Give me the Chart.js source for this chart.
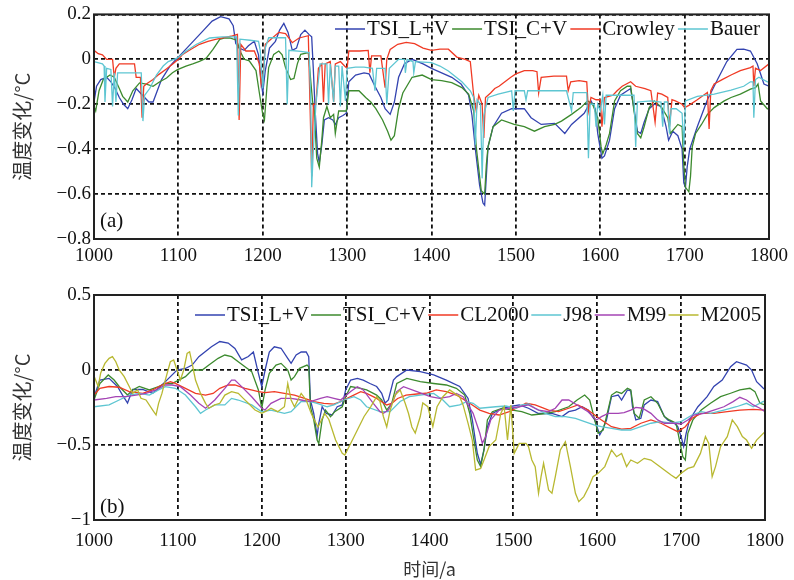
<!DOCTYPE html>
<html>
<head>
<meta charset="utf-8">
<script src="https://cdn.jsdelivr.net/npm/chart.js@4.4.1/dist/chart.umd.min.js"></script>
<style>
  body { margin: 0; background: #fff; }
  #wrap { position: relative; width: 794px; height: 580px; }
  #wrap canvas { position: absolute; left: 0; }
</style>
</head>
<body>
<div id="wrap">
  <canvas id="chart-a" width="794" height="280" style="top:0"></canvas>
  <canvas id="chart-b" width="794" height="300" style="top:280px"></canvas>
</div>
<script>
// Ticks
const xTicks = [1000, 1100, 1200, 1300, 1400, 1500, 1600, 1700, 1800];
const yTicksA = [0.2, 0, -0.2, -0.4, -0.6, -0.8];
const yTicksB = [0.5, 0, -0.5, -1];

// Panel (a): [year, °C]
const tsiLV_a = [[1000,-0.19],[1003,-0.12],[1008,-0.09],[1015,-0.08],[1020,-0.10],[1025,-0.13],[1030,-0.17],[1035,-0.20],[1040,-0.22],[1045,-0.18],[1050,-0.13],[1055,-0.15],[1060,-0.17],[1065,-0.19],[1070,-0.19],[1075,-0.14],[1080,-0.09],[1085,-0.06],[1090,-0.03],[1095,-0.01],[1100,0.01],[1110,0.05],[1120,0.09],[1130,0.13],[1140,0.17],[1150,0.19],[1160,0.18],[1165,0.15],[1168,0.07],[1172,0.05],[1178,0.04],[1183,0.06],[1190,0.08],[1195,0.02],[1198,-0.10],[1200,-0.15],[1203,-0.05],[1208,0.05],[1215,0.08],[1220,0.13],[1225,0.16],[1230,0.12],[1235,0.04],[1240,0.05],[1245,0.11],[1250,0.13],[1255,0.11],[1258,0.10],[1260,-0.05],[1262,-0.22],[1265,-0.42],[1267,-0.46],[1270,-0.38],[1273,-0.27],[1278,-0.26],[1283,-0.27],[1286,-0.29],[1290,-0.26],[1295,-0.25],[1299,-0.24],[1302,-0.10],[1310,-0.07],[1320,-0.06],[1326,-0.065],[1333,-0.12],[1340,-0.17],[1345,-0.22],[1351,-0.245],[1356,-0.19],[1361,-0.08],[1368,-0.02],[1377,0.0],[1390,-0.02],[1400,-0.04],[1412,-0.06],[1424,-0.08],[1435,-0.11],[1444,-0.16],[1448,-0.25],[1452,-0.40],[1457,-0.56],[1461,-0.64],[1463,-0.65],[1465,-0.52],[1467,-0.39],[1473,-0.30],[1483,-0.24],[1495,-0.22],[1510,-0.22],[1518,-0.26],[1530,-0.29],[1546,-0.285],[1558,-0.33],[1566,-0.29],[1581,-0.24],[1589,-0.185],[1594,-0.22],[1597,-0.33],[1602,-0.44],[1605,-0.43],[1611,-0.36],[1617,-0.22],[1624,-0.16],[1636,-0.13],[1640,-0.22],[1644,-0.32],[1648,-0.33],[1652,-0.28],[1658,-0.22],[1664,-0.20],[1672,-0.21],[1678,-0.30],[1681,-0.36],[1686,-0.32],[1692,-0.34],[1697,-0.40],[1699,-0.55],[1701,-0.57],[1703,-0.48],[1706,-0.40],[1715,-0.30],[1727,-0.18],[1739,-0.09],[1750,-0.01],[1762,0.044],[1770,0.045],[1778,0.037],[1786,-0.02],[1794,-0.11],[1800,-0.12]];
const tsiCV_a = [[1000,-0.21],[1002,-0.23],[1006,-0.14],[1011,-0.09],[1019,-0.07],[1024,-0.08],[1030,-0.13],[1034,-0.165],[1040,-0.19],[1046,-0.14],[1054,-0.105],[1062,-0.11],[1070,-0.12],[1078,-0.10],[1086,-0.083],[1093,-0.06],[1099,-0.046],[1109,-0.03],[1117,-0.02],[1125,-0.009],[1133,0.005],[1141,0.044],[1149,0.089],[1155,0.095],[1161,0.095],[1169,0.085],[1174,0.03],[1178,0.0],[1184,-0.007],[1192,-0.05],[1196,-0.15],[1200,-0.245],[1202,-0.27],[1205,-0.12],[1207,-0.037],[1213,0.022],[1219,0.037],[1223,0.02],[1227,-0.037],[1233,-0.09],[1237,-0.085],[1241,-0.02],[1245,0.022],[1254,0.03],[1257,-0.10],[1259,-0.185],[1261,-0.23],[1264,-0.44],[1267,-0.48],[1270,-0.36],[1272,-0.26],[1276,-0.21],[1280,-0.26],[1284,-0.245],[1286,-0.33],[1290,-0.23],[1299,-0.23],[1302,-0.14],[1314,-0.14],[1322,-0.17],[1328,-0.19],[1334,-0.22],[1342,-0.27],[1348,-0.32],[1352,-0.36],[1356,-0.34],[1361,-0.22],[1366,-0.15],[1377,-0.08],[1389,-0.07],[1400,-0.09],[1412,-0.095],[1424,-0.104],[1436,-0.126],[1444,-0.155],[1450,-0.23],[1453,-0.39],[1459,-0.585],[1463,-0.60],[1465,-0.47],[1467,-0.39],[1473,-0.30],[1483,-0.27],[1498,-0.29],[1510,-0.30],[1522,-0.32],[1534,-0.30],[1546,-0.29],[1554,-0.275],[1566,-0.245],[1577,-0.215],[1585,-0.185],[1591,-0.20],[1597,-0.26],[1601,-0.39],[1603,-0.42],[1607,-0.38],[1611,-0.33],[1617,-0.185],[1624,-0.14],[1632,-0.12],[1636,-0.12],[1640,-0.23],[1644,-0.33],[1648,-0.35],[1652,-0.30],[1658,-0.215],[1664,-0.185],[1673,-0.215],[1680,-0.26],[1683,-0.33],[1692,-0.29],[1697,-0.30],[1699,-0.47],[1701,-0.57],[1705,-0.59],[1707,-0.52],[1709,-0.39],[1713,-0.33],[1720,-0.29],[1727,-0.245],[1735,-0.215],[1747,-0.185],[1755,-0.17],[1766,-0.155],[1778,-0.133],[1784,-0.126],[1787,-0.11],[1790,-0.185],[1798,-0.22],[1800,-0.22]];
const crowley_a = [[1000,0.04],[1005,0.025],[1010,0.02],[1015,0.0],[1022,0.0],[1024,-0.08],[1026,-0.04],[1030,-0.02],[1040,-0.02],[1048,-0.02],[1050,-0.08],[1055,-0.08],[1057,-0.26],[1059,-0.12],[1062,-0.11],[1070,-0.09],[1077,-0.067],[1085,-0.045],[1093,-0.022],[1100,0.0],[1105,0.022],[1115,0.045],[1125,0.067],[1135,0.08],[1144,0.089],[1154,0.097],[1164,0.104],[1170,0.111],[1172,-0.27],[1174,0.067],[1180,0.037],[1190,0.037],[1196,-0.02],[1198,-0.11],[1201,-0.05],[1203,0.067],[1210,0.09],[1219,0.12],[1227,0.115],[1235,0.074],[1243,0.095],[1254,0.105],[1256,-0.2],[1258,-0.52],[1260,-0.2],[1263,-0.20],[1266,-0.04],[1270,-0.02],[1272,-0.19],[1274,-0.02],[1280,-0.01],[1284,-0.19],[1286,-0.02],[1292,-0.01],[1297,-0.03],[1300,-0.04],[1302,0.037],[1315,0.037],[1325,0.04],[1327,-0.06],[1329,0.015],[1340,0.015],[1345,-0.126],[1347,0.0],[1351,0.044],[1360,0.067],[1370,0.075],[1380,0.07],[1390,0.05],[1400,0.04],[1410,0.045],[1420,0.045],[1430,0.01],[1440,0.0],[1446,-0.01],[1450,-0.16],[1453,-0.23],[1456,-0.16],[1460,-0.20],[1462,-0.35],[1464,-0.17],[1470,-0.15],[1475,-0.13],[1480,-0.12],[1487,-0.10],[1494,-0.08],[1500,-0.065],[1510,-0.05],[1520,-0.05],[1525,-0.055],[1527,-0.15],[1530,-0.08],[1545,-0.075],[1560,-0.075],[1562,-0.14],[1565,-0.10],[1575,-0.095],[1584,-0.10],[1586,-0.23],[1589,-0.17],[1595,-0.18],[1600,-0.18],[1602,-0.30],[1605,-0.17],[1615,-0.16],[1620,-0.14],[1626,-0.12],[1636,-0.10],[1642,-0.12],[1653,-0.13],[1660,-0.14],[1665,-0.28],[1668,-0.15],[1673,-0.155],[1680,-0.17],[1682,-0.30],[1685,-0.18],[1689,-0.185],[1697,-0.20],[1700,-0.215],[1705,-0.205],[1715,-0.18],[1727,-0.148],[1729,-0.31],[1731,-0.14],[1735,-0.11],[1745,-0.089],[1755,-0.07],[1766,-0.05],[1778,-0.037],[1781,-0.03],[1782,-0.12],[1784,-0.04],[1790,-0.05],[1800,-0.02]];
const bauer_a = [[1000,-0.01],[1010,-0.02],[1012,-0.03],[1013,-0.19],[1015,-0.04],[1020,-0.045],[1022,-0.21],[1024,-0.06],[1026,-0.19],[1028,-0.06],[1040,-0.06],[1050,-0.06],[1056,-0.06],[1058,-0.275],[1060,-0.16],[1066,-0.13],[1074,-0.07],[1082,-0.03],[1088,-0.01],[1099,0.006],[1109,0.036],[1121,0.066],[1137,0.095],[1152,0.10],[1169,0.10],[1171,-0.25],[1173,0.09],[1185,0.085],[1195,0.08],[1197,0.04],[1200,-0.13],[1203,0.05],[1207,0.096],[1227,0.096],[1229,-0.2],[1231,0.04],[1245,0.035],[1255,0.03],[1257,-0.2],[1258,-0.57],[1260,-0.40],[1263,-0.20],[1268,-0.02],[1276,-0.02],[1278,-0.20],[1280,-0.02],[1284,-0.19],[1286,-0.03],[1290,-0.03],[1292,-0.21],[1294,-0.03],[1298,-0.185],[1300,-0.04],[1310,-0.035],[1320,-0.035],[1330,-0.04],[1333,-0.14],[1335,-0.04],[1345,-0.04],[1347,-0.2],[1350,-0.04],[1361,0.0],[1368,0.0],[1369,-0.06],[1371,0.0],[1378,-0.01],[1379,-0.06],[1381,-0.01],[1400,-0.015],[1410,-0.03],[1420,-0.052],[1436,-0.10],[1446,-0.14],[1450,-0.17],[1452,-0.38],[1454,-0.18],[1458,-0.20],[1460,-0.53],[1462,-0.25],[1467,-0.17],[1479,-0.155],[1495,-0.14],[1497,-0.23],[1499,-0.14],[1510,-0.14],[1512,-0.18],[1514,-0.14],[1540,-0.14],[1560,-0.14],[1566,-0.23],[1568,-0.148],[1584,-0.148],[1586,-0.44],[1588,-0.20],[1593,-0.20],[1595,-0.30],[1597,-0.20],[1600,-0.23],[1603,-0.16],[1605,-0.29],[1607,-0.16],[1620,-0.16],[1640,-0.16],[1642,-0.39],[1644,-0.19],[1660,-0.185],[1672,-0.19],[1674,-0.30],[1676,-0.19],[1680,-0.19],[1682,-0.33],[1684,-0.22],[1690,-0.22],[1697,-0.24],[1699,-0.39],[1701,-0.185],[1715,-0.165],[1735,-0.155],[1755,-0.137],[1770,-0.12],[1778,-0.10],[1781,-0.10],[1782,-0.26],[1784,-0.09],[1788,-0.08],[1798,-0.10],[1800,-0.10]];

// Panel (b): [year, °C]
const tsiLV_b = [[1000,-0.18],[1007,-0.067],[1018,-0.056],[1028,-0.11],[1034,-0.167],[1040,-0.22],[1046,-0.13],[1058,-0.13],[1070,-0.155],[1081,-0.10],[1089,-0.056],[1099,0.0],[1109,0.01],[1117,0.033],[1125,0.089],[1140,0.155],[1150,0.19],[1160,0.18],[1168,0.144],[1176,0.067],[1184,0.09],[1190,0.12],[1196,-0.022],[1200,-0.11],[1204,0.0],[1209,0.12],[1215,0.155],[1223,0.145],[1231,0.078],[1235,0.044],[1241,0.1],[1247,0.12],[1253,0.12],[1256,0.089],[1258,-0.2],[1262,-0.29],[1266,-0.44],[1268,-0.355],[1272,-0.245],[1277,-0.29],[1284,-0.3],[1290,-0.245],[1296,-0.233],[1300,-0.133],[1306,-0.067],[1314,-0.056],[1321,-0.067],[1329,-0.09],[1337,-0.11],[1343,-0.156],[1347,-0.22],[1351,-0.2],[1357,-0.067],[1361,-0.044],[1373,0.0],[1389,-0.011],[1405,-0.033],[1420,-0.067],[1436,-0.11],[1446,-0.19],[1451,-0.33],[1457,-0.555],[1461,-0.63],[1465,-0.53],[1469,-0.38],[1475,-0.29],[1487,-0.255],[1495,-0.245],[1507,-0.233],[1518,-0.255],[1530,-0.29],[1546,-0.29],[1558,-0.31],[1566,-0.278],[1574,-0.267],[1582,-0.245],[1589,-0.267],[1597,-0.333],[1603,-0.433],[1607,-0.39],[1611,-0.333],[1617,-0.178],[1625,-0.167],[1629,-0.2],[1636,-0.133],[1640,-0.14],[1642,-0.245],[1646,-0.333],[1652,-0.322],[1656,-0.233],[1664,-0.2],[1672,-0.211],[1680,-0.31],[1684,-0.333],[1692,-0.355],[1696,-0.378],[1700,-0.444],[1703,-0.51],[1706,-0.422],[1710,-0.333],[1720,-0.245],[1731,-0.178],[1739,-0.11],[1749,-0.067],[1759,0.022],[1766,0.055],[1778,0.033],[1784,0.0],[1790,-0.078],[1798,-0.122],[1800,-0.13]];
const tsiCV_b = [[1000,-0.2],[1007,-0.09],[1017,-0.033],[1024,-0.067],[1030,-0.11],[1040,-0.167],[1046,-0.133],[1054,-0.11],[1066,-0.133],[1077,-0.11],[1085,-0.09],[1093,-0.09],[1101,-0.067],[1109,-0.044],[1117,0.0],[1129,0.0],[1137,0.033],[1148,0.078],[1156,0.1],[1164,0.089],[1172,0.055],[1180,0.022],[1188,-0.011],[1196,-0.133],[1200,-0.255],[1204,-0.133],[1209,-0.022],[1217,0.033],[1223,0.044],[1231,0.0],[1235,-0.067],[1239,-0.044],[1245,0.011],[1254,0.033],[1256,0.022],[1258,-0.245],[1262,-0.333],[1266,-0.467],[1268,-0.49],[1272,-0.333],[1276,-0.267],[1282,-0.311],[1287,-0.278],[1296,-0.245],[1300,-0.178],[1306,-0.11],[1318,-0.122],[1325,-0.133],[1337,-0.167],[1343,-0.2],[1349,-0.267],[1355,-0.222],[1361,-0.09],[1373,-0.056],[1389,-0.078],[1405,-0.09],[1420,-0.1],[1432,-0.122],[1442,-0.167],[1448,-0.29],[1453,-0.467],[1457,-0.6],[1461,-0.644],[1465,-0.533],[1469,-0.333],[1475,-0.278],[1487,-0.255],[1499,-0.267],[1510,-0.278],[1522,-0.3],[1538,-0.29],[1550,-0.278],[1566,-0.245],[1576,-0.2],[1585,-0.167],[1591,-0.2],[1597,-0.333],[1601,-0.422],[1607,-0.4],[1611,-0.311],[1617,-0.167],[1623,-0.144],[1629,-0.156],[1636,-0.122],[1640,-0.133],[1644,-0.29],[1650,-0.322],[1656,-0.2],[1664,-0.178],[1672,-0.222],[1680,-0.311],[1686,-0.333],[1694,-0.355],[1698,-0.467],[1702,-0.578],[1705,-0.6],[1708,-0.422],[1714,-0.333],[1724,-0.267],[1735,-0.222],[1747,-0.178],[1759,-0.155],[1770,-0.133],[1782,-0.122],[1788,-0.144],[1794,-0.222],[1800,-0.233]];
const cl2000_b = [[1000,-0.167],[1007,-0.122],[1018,-0.11],[1030,-0.115],[1042,-0.144],[1058,-0.156],[1070,-0.133],[1081,-0.1],[1091,-0.078],[1097,-0.089],[1109,-0.122],[1121,-0.156],[1133,-0.167],[1142,-0.156],[1150,-0.122],[1160,-0.1],[1168,-0.1],[1180,-0.122],[1196,-0.144],[1204,-0.151],[1215,-0.144],[1227,-0.156],[1239,-0.167],[1251,-0.189],[1262,-0.211],[1274,-0.222],[1286,-0.227],[1294,-0.211],[1306,-0.178],[1318,-0.144],[1325,-0.156],[1337,-0.189],[1349,-0.233],[1355,-0.222],[1362,-0.19],[1372,-0.167],[1385,-0.16],[1396,-0.155],[1408,-0.133],[1420,-0.144],[1432,-0.167],[1448,-0.222],[1460,-0.267],[1471,-0.289],[1483,-0.3],[1495,-0.278],[1507,-0.245],[1515,-0.222],[1526,-0.233],[1542,-0.267],[1554,-0.278],[1566,-0.255],[1577,-0.233],[1589,-0.267],[1605,-0.333],[1617,-0.378],[1629,-0.395],[1640,-0.389],[1652,-0.355],[1664,-0.333],[1676,-0.355],[1688,-0.389],[1696,-0.411],[1705,-0.378],[1713,-0.322],[1724,-0.289],[1739,-0.289],[1755,-0.278],[1770,-0.267],[1786,-0.262],[1800,-0.267]];
const j98_b = [[1000,-0.245],[1018,-0.233],[1030,-0.2],[1042,-0.167],[1054,-0.156],[1066,-0.167],[1077,-0.133],[1085,-0.111],[1097,-0.122],[1109,-0.167],[1121,-0.245],[1127,-0.289],[1133,-0.267],[1144,-0.233],[1156,-0.233],[1164,-0.189],[1172,-0.2],[1188,-0.233],[1200,-0.278],[1211,-0.267],[1227,-0.289],[1235,-0.278],[1247,-0.21],[1258,-0.21],[1266,-0.222],[1278,-0.245],[1286,-0.233],[1298,-0.2],[1310,-0.178],[1318,-0.2],[1325,-0.245],[1341,-0.278],[1353,-0.278],[1365,-0.21],[1376,-0.178],[1389,-0.167],[1405,-0.156],[1416,-0.2],[1424,-0.245],[1436,-0.233],[1444,-0.211],[1452,-0.222],[1460,-0.255],[1479,-0.245],[1491,-0.24],[1503,-0.255],[1510,-0.233],[1518,-0.227],[1526,-0.255],[1538,-0.289],[1550,-0.311],[1562,-0.311],[1574,-0.322],[1585,-0.344],[1597,-0.367],[1605,-0.378],[1617,-0.389],[1629,-0.4],[1640,-0.4],[1652,-0.378],[1664,-0.355],[1676,-0.344],[1688,-0.355],[1700,-0.344],[1713,-0.3],[1724,-0.278],[1735,-0.289],[1751,-0.267],[1766,-0.245],[1778,-0.222],[1786,-0.245],[1798,-0.21],[1800,-0.21]];
const m99_b = [[1000,-0.2],[1015,-0.189],[1026,-0.178],[1038,-0.178],[1050,-0.167],[1062,-0.156],[1074,-0.133],[1085,-0.1],[1093,-0.1],[1103,-0.111],[1115,-0.167],[1125,-0.222],[1133,-0.255],[1144,-0.2],[1156,-0.122],[1164,-0.067],[1168,-0.067],[1176,-0.111],[1188,-0.178],[1200,-0.255],[1204,-0.267],[1211,-0.222],[1223,-0.189],[1235,-0.189],[1247,-0.2],[1258,-0.211],[1270,-0.189],[1278,-0.178],[1286,-0.189],[1294,-0.2],[1306,-0.144],[1314,-0.111],[1321,-0.133],[1333,-0.222],[1341,-0.278],[1345,-0.289],[1351,-0.267],[1357,-0.2],[1361,-0.144],[1369,-0.111],[1385,-0.144],[1401,-0.178],[1412,-0.189],[1424,-0.178],[1432,-0.156],[1440,-0.178],[1452,-0.289],[1460,-0.422],[1463,-0.489],[1467,-0.444],[1473,-0.333],[1483,-0.267],[1495,-0.255],[1507,-0.245],[1518,-0.233],[1530,-0.267],[1542,-0.278],[1550,-0.255],[1558,-0.2],[1566,-0.2],[1576,-0.233],[1589,-0.278],[1599,-0.333],[1605,-0.311],[1613,-0.289],[1625,-0.289],[1632,-0.284],[1640,-0.267],[1646,-0.249],[1654,-0.255],[1664,-0.289],[1672,-0.333],[1680,-0.355],[1692,-0.355],[1700,-0.36],[1708,-0.333],[1715,-0.3],[1727,-0.289],[1739,-0.267],[1751,-0.245],[1762,-0.211],[1770,-0.182],[1778,-0.2],[1786,-0.233],[1794,-0.255],[1800,-0.278]];
const m2005_b = [[1000,-0.04],[1005,-0.11],[1008,-0.02],[1013,0.044],[1018,0.078],[1022,0.089],[1026,0.055],[1030,0.0],[1036,-0.044],[1042,-0.11],[1046,-0.156],[1052,-0.133],[1056,-0.189],[1062,-0.2],[1070,-0.267],[1074,-0.3],[1077,-0.222],[1081,-0.156],[1085,-0.067],[1091,0.055],[1095,0.067],[1099,0.0],[1103,-0.067],[1107,0.0],[1111,0.111],[1114,0.122],[1117,0.044],[1121,-0.067],[1127,-0.156],[1133,-0.222],[1137,-0.255],[1144,-0.233],[1150,-0.222],[1156,-0.167],[1164,-0.144],[1172,-0.156],[1178,-0.189],[1184,-0.222],[1192,-0.267],[1200,-0.289],[1204,-0.278],[1211,-0.255],[1219,-0.278],[1227,-0.245],[1231,-0.09],[1235,-0.2],[1239,-0.245],[1247,-0.156],[1253,-0.2],[1259,-0.29],[1267,-0.38],[1275,-0.29],[1280,-0.33],[1288,-0.467],[1296,-0.556],[1299,-0.567],[1306,-0.49],[1314,-0.4],[1322,-0.31],[1330,-0.244],[1337,-0.178],[1341,-0.21],[1345,-0.31],[1349,-0.38],[1353,-0.27],[1359,-0.167],[1365,-0.133],[1371,-0.222],[1375,-0.29],[1379,-0.38],[1383,-0.42],[1389,-0.31],[1392,-0.22],[1398,-0.245],[1404,-0.378],[1409,-0.245],[1416,-0.178],[1424,-0.133],[1430,-0.156],[1436,-0.178],[1440,-0.233],[1446,-0.356],[1451,-0.467],[1455,-0.667],[1461,-0.656],[1465,-0.6],[1471,-0.511],[1479,-0.467],[1485,-0.289],[1489,-0.245],[1493,-0.467],[1497,-0.233],[1501,-0.556],[1507,-0.489],[1515,-0.489],[1518,-0.511],[1522,-0.6],[1526,-0.644],[1530,-0.822],[1533,-0.711],[1536,-0.622],[1542,-0.8],[1546,-0.822],[1550,-0.711],[1556,-0.533],[1562,-0.478],[1568,-0.644],[1574,-0.822],[1578,-0.878],[1584,-0.844],[1590,-0.778],[1595,-0.711],[1601,-0.689],[1609,-0.644],[1617,-0.533],[1623,-0.578],[1629,-0.556],[1635,-0.644],[1640,-0.6],[1648,-0.622],[1656,-0.589],[1664,-0.6],[1672,-0.633],[1680,-0.667],[1688,-0.7],[1694,-0.722],[1700,-0.689],[1708,-0.656],[1715,-0.644],[1723,-0.556],[1729,-0.444],[1733,-0.489],[1737,-0.711],[1741,-0.644],[1747,-0.511],[1755,-0.444],[1761,-0.333],[1767,-0.378],[1773,-0.444],[1778,-0.467],[1784,-0.522],[1790,-0.467],[1800,-0.411]];

const toXY = arr => arr.map(([x, y]) => ({ x, y }));
const fmtY = v => String(v).replace('-', '\u2212');

const serif = '"Liberation Serif", "Times New Roman", serif';
const cjk = '"Noto Sans CJK SC", "Noto Sans", sans-serif';

// Legend inside the plot area, frame and panel label
const panelDeco = {
  id: 'panelDeco',
  afterDatasetsDraw(chart, args, opts) {
    const { ctx, chartArea } = chart;
    ctx.save();
    ctx.font = '21px ' + serif;
    ctx.textBaseline = 'middle';
    let x = opts.legendX;
    chart.data.datasets.forEach(ds => {
      ctx.strokeStyle = ds.borderColor;
      ctx.lineWidth = 1.5;
      ctx.beginPath();
      ctx.moveTo(x, opts.legendY);
      ctx.lineTo(x + 30, opts.legendY);
      ctx.stroke();
      x += 32;
      ctx.fillStyle = '#111';
      ctx.fillText(ds.label, x, opts.legendY);
      x += ctx.measureText(ds.label).width + opts.gap;
    });
    ctx.fillText(opts.panel, chartArea.left + 6, opts.panelY);
    ctx.strokeStyle = '#222';
    ctx.lineWidth = 2;
    ctx.strokeRect(chartArea.left, chartArea.top, chartArea.right - chartArea.left, chartArea.bottom - chartArea.top);
    ctx.restore();
  }
};

function makeChart(id, datasets, cfg) {
  const n = datasets.length;
  return new Chart(document.getElementById(id), {
    type: 'line',
    data: {
      datasets: datasets.map((d, i) => ({
        label: d.label,
        data: toXY(d.data),
        borderColor: d.color,
        borderWidth: 1.3,
        pointRadius: 0,
        tension: 0,
        order: n - 1 - i
      }))
    },
    options: {
      responsive: false,
      animation: false,
      layout: { padding: { top: cfg.padTop, right: 22, left: 0, bottom: 0 } },
      plugins: {
        legend: { display: false },
        tooltip: { enabled: false },
        panelDeco: cfg.deco
      },
      scales: {
        x: {
          type: 'linear',
          min: 1000,
          max: 1800,
          afterBuildTicks: axis => { axis.ticks = xTicks.map(v => ({ value: v })); },
          afterFit: axis => { axis.height = cfg.xHeight; },
          grid: { color: '#111', lineWidth: 1.8, drawTicks: false },
          border: { display: false, dash: [4, 3] },
          ticks: { color: '#111', font: { family: serif, size: 19 }, padding: cfg.xPad, maxRotation: 0, callback: v => String(v) },
          title: {
            display: !!cfg.xTitle,
            text: cfg.xTitle || '',
            color: '#333',
            font: { family: cjk, size: 18 },
            padding: { top: 0, bottom: 0 }
          }
        },
        y: {
          min: cfg.yTicks[cfg.yTicks.length - 1],
          max: cfg.yTicks[0],
          afterBuildTicks: axis => { axis.ticks = cfg.yTicks.map(v => ({ value: v })); },
          afterFit: axis => { axis.width = 94; },
          grid: { color: '#111', lineWidth: 1.8, drawTicks: false },
          border: { display: false, dash: [4, 3] },
          ticks: { color: '#111', font: { family: serif, size: 19 }, padding: 3, callback: v => fmtY(v) },
          title: {
            display: true,
            text: '温度变化/°C',
            color: '#333',
            font: { family: cjk, size: 20 },
            padding: { top: 10, bottom: 0 }
          }
        }
      }
    },
    plugins: [panelDeco]
  });
}

makeChart('chart-a', [
  { label: 'TSI_L+V', data: tsiLV_a, color: '#3343b0' },
  { label: 'TSI_C+V', data: tsiCV_a, color: '#3c8a2e' },
  { label: 'Crowley', data: crowley_a, color: '#f03a24' },
  { label: 'Bauer', data: bauer_a, color: '#5ec6d2' }
], {
  padTop: 14, xHeight: 41, xPad: 6, yTicks: yTicksA,
  deco: { legendX: 335, legendY: 29, gap: 3.25, panel: '(a)', panelY: 221 }
});

makeChart('chart-b', [
  { label: 'TSI_L+V', data: tsiLV_b, color: '#3343b0' },
  { label: 'TSI_C+V', data: tsiCV_b, color: '#3c8a2e' },
  { label: 'CL2000', data: cl2000_b, color: '#f03a24' },
  { label: 'J98', data: j98_b, color: '#5ec6d2' },
  { label: 'M99', data: m99_b, color: '#a444b4' },
  { label: 'M2005', data: m2005_b, color: '#b8b830' }
], {
  padTop: 15, xHeight: 60, xPad: 10, yTicks: yTicksB, xTitle: '时间/a',
  deco: { legendX: 195, legendY: 35, gap: 2.2, panel: '(b)', panelY: 227 }
});
</script>
</body>
</html>
